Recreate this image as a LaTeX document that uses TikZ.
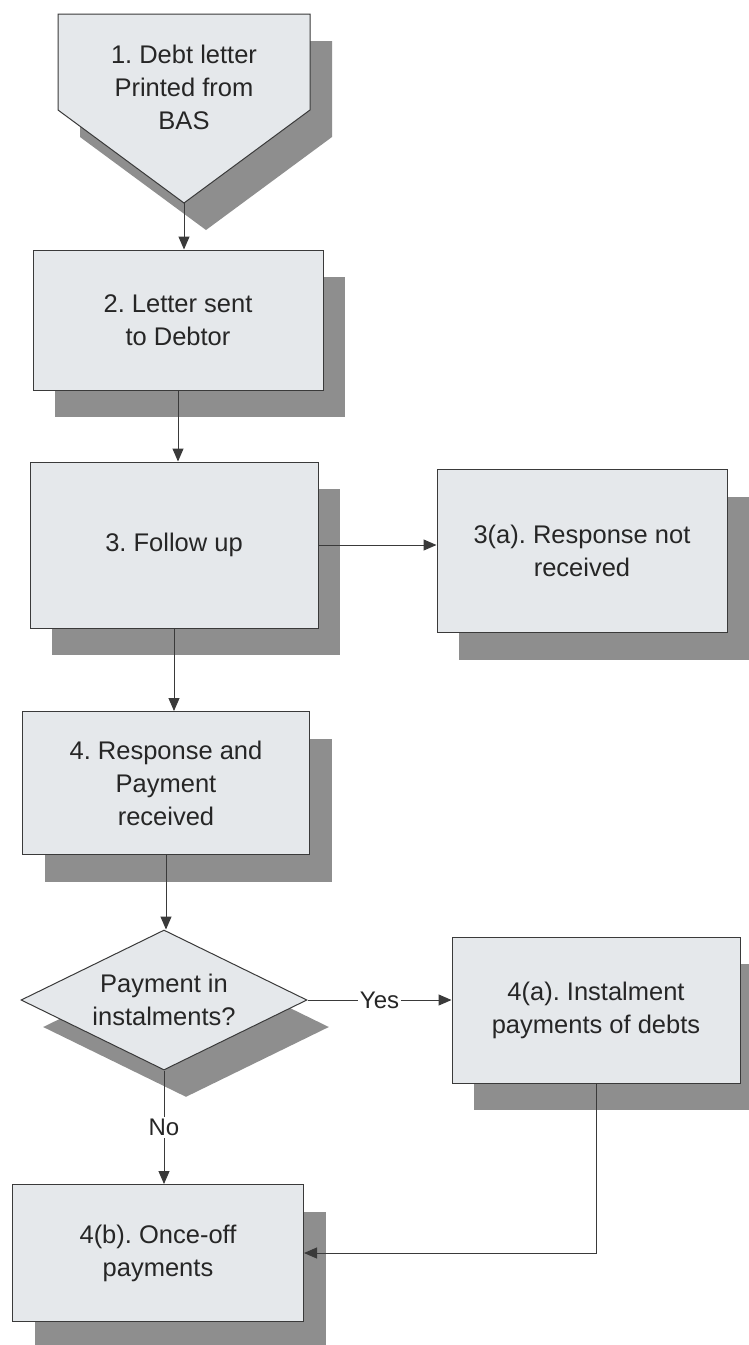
\documentclass[tikz,border=0pt]{standalone}
\usepackage{fontspec}
\setmainfont{Liberation Sans}
\usetikzlibrary{arrows.meta,shapes.geometric,shadows}
\frenchspacing

\definecolor{boxfill}{HTML}{E5E8EB}
\definecolor{shadowgray}{HTML}{8E8E8E}
\definecolor{linegray}{HTML}{3A3A3A}
\definecolor{textgray}{HTML}{262626}

\tikzset{
  x=1pt, y=1pt,
  every node/.style={text=textgray, font=\fontsize{25.5}{33}\selectfont},
  boxshadow/.style={drop shadow={shadow xshift=22pt, shadow yshift=-27pt,
      fill=shadowgray, opacity=1}},
  procbox/.style={rectangle, draw=linegray, line width=1pt, fill=boxfill,
      align=center, inner sep=0pt, boxshadow},
  decbox/.style={diamond, draw=linegray, line width=1pt, fill=boxfill,
      align=center, inner sep=0pt, aspect=2.04,
      minimum width=286pt, minimum height=140pt, boxshadow},
  flow/.style={draw=linegray, line width=1pt,
      -{Triangle[length=13pt,width=11pt]}},
  flowlabel/.style={fill=white, inner sep=2pt,
      font=\fontsize{24}{28}\selectfont}
}

\begin{document}
\begin{tikzpicture}
\useasboundingbox[fill=white] (0,0) rectangle (748,-1345);

% step 1: off-page connector shape (pentagon pointing down)
\fill[shadowgray, shift={(22,-27)}]
  (58,-14) -- (310,-14) -- (310,-110) -- (184,-203) -- (58,-110) -- cycle;
\draw[draw=linegray, line width=1pt, fill=boxfill]
  (58,-14) -- (310,-14) -- (310,-110) -- (184,-203) -- (58,-110) -- cycle;
\coordinate (s1tip) at (184,-203);
\node[align=center] (s1) at (184,-87) {1. Debt letter\\Printed from\\BAS};

% process steps
\node[procbox, minimum width=290pt, minimum height=140pt] (s2) at (178,-320)
  {2. Letter sent\\to Debtor};
\node[procbox, minimum width=288pt, minimum height=166pt] (s3) at (174,-545)
  {3. Follow up};
\node[procbox, minimum width=290pt, minimum height=163pt] (s3a) at (582,-551)
  {3(a). Response not\\received};
\node[procbox, minimum width=287pt, minimum height=143pt] (s4) at (166,-783)
  {4. Response and\\Payment\\received};
\node[decbox] (dec) at (164,-1000) {Payment in\\instalments?};
\node[procbox, minimum width=288pt, minimum height=146pt] (s4a) at (596,-1010)
  {4(a). Instalment\\payments of debts};
\node[procbox, minimum width=291pt, minimum height=137pt] (s4b) at (158,-1253)
  {4(b). Once-off\\payments};

% connectors
\draw[flow] (s1tip) -- (s1tip |- s2.north);
\draw[flow] (s2.south) -- (s2.south |- s3.north);
\draw[flow] (s3.east) -- (s3.east -| s3a.west);
\draw[flow] (s3.south) -- (s3.south |- s4.north);
\draw[flow] (s4.south) -- (s4.south |- dec.north);
\draw[flow] (dec.east) -- node[flowlabel] {Yes} (dec.east -| s4a.west);
\draw[flow] (dec.south) -- node[flowlabel] {No} (dec.south |- s4b.north);
\draw[flow] (s4a.south) |- (s4b.east);
\end{tikzpicture}
\end{document}
